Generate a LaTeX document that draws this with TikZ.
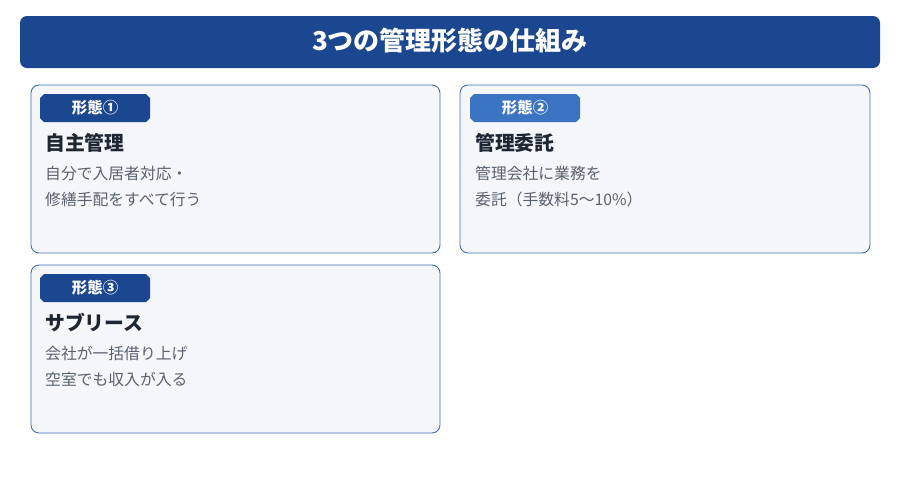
\documentclass[tikz,border=0pt]{standalone}
\usepackage{fontspec}
\setmainfont{Noto Sans CJK JP}
\usetikzlibrary{shapes.misc}
\definecolor{navy}{HTML}{1B4690}
\definecolor{lblue}{HTML}{3A74C2}
\definecolor{cardbd}{HTML}{3F6EB3}
\definecolor{cardbg}{HTML}{F4F6FA}
\definecolor{headc}{HTML}{1E2533}
\definecolor{bodyc}{HTML}{5A6270}
\tikzset{
  card/.style={draw=cardbd, line width=0.9pt, fill=cardbg, rounded corners=8pt},
  badge/.style={chamfered rectangle, chamfered rectangle xsep=2pt, chamfered rectangle ysep=2pt,
    minimum width=110pt, minimum height=28pt, inner sep=0pt, text=white,
    font=\fontsize{15.5}{17}\selectfont\bfseries},
  head/.style={anchor=west, text=headc, inner sep=0pt, font=\fontsize{19.8}{22}\selectfont\bfseries},
  body/.style={anchor=north west, text=bodyc, inner sep=0pt, align=left,
    font=\fontsize{15.8}{26}\selectfont},
}
\begin{document}
\begin{tikzpicture}[x=1pt,y=-1pt]
\useasboundingbox (0,0) rectangle (900,480);
\fill[navy, rounded corners=7pt] (20,16) rectangle (880,68);
\node[text=white, font=\fontsize{26}{30}\selectfont\bfseries] (title) at (450,41) {3つの管理形態の仕組み};
% card 1
\draw[card] (31,85) rectangle (440,253);
\node[badge, fill=navy] (b1) at (95,108) {形態①};
\node[head] (h1) at (45,143) {自主管理};
\node[body] (t1) at (45,166) {自分で入居者対応・\\修繕手配をすべて行う};
% card 2
\draw[card] (460,85) rectangle (870,253);
\node[badge, fill=lblue] (b2) at (525,108) {形態②};
\node[head] (h2) at (475,143) {管理委託};
\node[body] (t2) at (475,166) {管理会社に業務を\\委託（手数料5〜10\%）};
% card 3
\draw[card] (31,265) rectangle (440,433);
\node[badge, fill=navy] (b3) at (95,288) {形態③};
\node[head] (h3) at (45,323) {サブリース};
\node[body] (t3) at (45,346) {会社が一括借り上げ\\空室でも収入が入る};
\end{tikzpicture}
\end{document}
